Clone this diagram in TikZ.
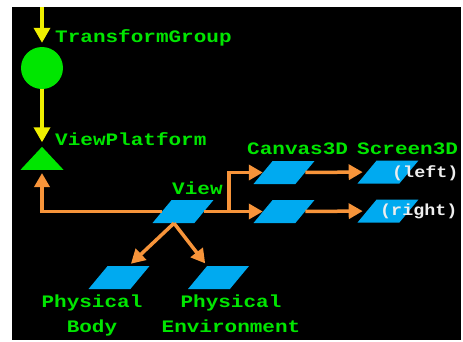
\documentclass[tikz,border=0pt]{standalone}
\usepackage{fontspec}
\setmonofont{Liberation Mono}[FakeStretch=1.2]
\newfontfamily\sidefont{Liberation Mono}[FakeStretch=1.15]
\usetikzlibrary{arrows.meta,positioning,shapes.geometric}
\definecolor{Backdrop}{HTML}{000000}
\definecolor{SceneGreen}{HTML}{00E600}
\definecolor{GroupYellow}{HTML}{F0F000}
\definecolor{ViewOrange}{HTML}{F7943A}
\definecolor{ObjectBlue}{HTML}{00AAF0}
\definecolor{SideWhite}{HTML}{EEEEEE}
\tikzset{
  groupflow/.style={-{Triangle[length=15pt,width=16pt]}, draw=GroupYellow, line width=3.5pt},
  viewflow/.style={-{Triangle[length=14pt,width=15pt]}, draw=ViewOrange, line width=3.5pt},
  leaf/.style={trapezium, trapezium left angle=50, trapezium right angle=130,
    trapezium stretches=true, minimum width=61pt, minimum height=23pt, inner sep=1pt,
    fill=ObjectBlue},
  tag/.style={font=\ttfamily\bfseries\fontsize{17.5}{25}\selectfont, text=SceneGreen,
    inner sep=0pt, align=center},
  sidetag/.style={font=\sidefont\bfseries\fontsize{16}{18}\selectfont, text=SideWhite,
    inner sep=0pt},
}

\begin{document}
\begin{tikzpicture}[x=1pt, y=-1pt]
  \useasboundingbox (0,0) rectangle (463,341);
  \fill[Backdrop] (12,7) rectangle (461,340);

  % Scene graph objects, positioned at the reference's coordinates.
  \coordinate (groupIn) at (42,7);
  \node[circle, fill=SceneGreen, minimum size=42pt, inner sep=0pt] (transform) at (42,68) {};
  \node[isosceles triangle, isosceles triangle stretches=true, shape border rotate=90,
    fill=SceneGreen, minimum width=43pt, minimum height=23pt, inner sep=0pt] (platform)
    at (42,160.5) {};
  \node[leaf] (view) at (183,211.5) {};
  \node[leaf] (canvasUp) at (284,172.5) {};
  \node[leaf] (canvasLow) at (284,211.5) {};
  \node[leaf] (screenUp) at (388,172) {};
  \node[leaf] (screenLow) at (388,211) {};
  \node[leaf] (body) at (119,277.5) {};
  \node[leaf] (environment) at (218.5,277.5) {};
  \coordinate (fork) at (229,211.5);

  % Labels.
  \node[tag, anchor=base west] (transformTag) at (55,42) {TransformGroup};
  \node[tag, anchor=base west] (platformTag) at (55,145) {ViewPlatform};
  \node[tag, anchor=base west] (viewTag) at (172,194) {View};
  \node[tag, anchor=base west] (canvasTag) at (247,154) {Canvas3D};
  \node[tag, anchor=base west] (screenTag) at (357,154) {Screen3D};
  \node[sidetag, anchor=base west] (leftTag) at (392,177) {(left)};
  \node[sidetag, anchor=base west] (rightTag) at (380,215) {(right)};
  \node[tag, anchor=base] (bodyTag) at (92,332) {Physical\\Body};
  \node[tag, anchor=base] (environmentTag) at (231,332) {Physical\\Environment};

  % Group links and view links.
  \draw[groupflow, shorten >=4pt] (groupIn) -- (transform);
  \draw[groupflow, shorten >=4pt] (transform) -- (platform.apex);
  \draw[viewflow, shorten >=3pt] (view) -| (platform.south);
  \draw[viewflow] (view) -- (canvasLow);
  \draw[viewflow] (fork) |- (canvasUp);
  \draw[viewflow, shorten >=4pt] (canvasUp) -- (screenUp);
  \draw[viewflow, shorten >=4pt] (canvasLow) -- (screenLow);
  \draw[viewflow, shorten >=3pt] ([xshift=-9pt]view.south) -- (body.top side);
  \draw[viewflow, shorten >=3pt] ([xshift=-9pt]view.south) -- (environment.top left corner);
\end{tikzpicture}
\end{document}
